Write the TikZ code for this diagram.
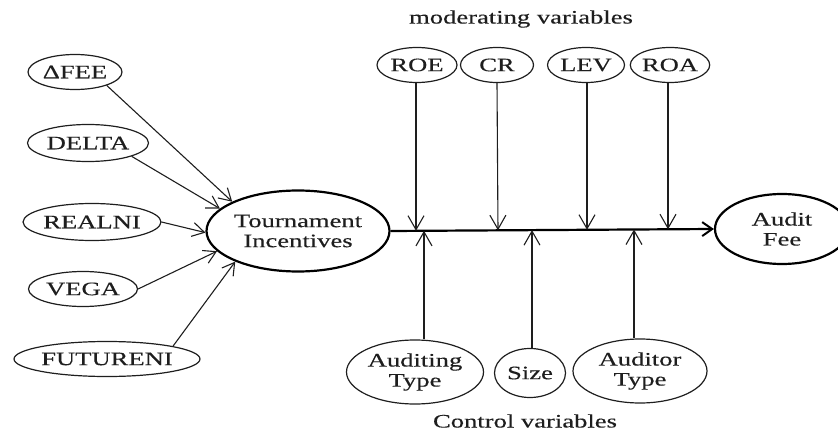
\documentclass[tikz,border=0pt]{standalone}
\usepackage{fontspec}
\setmainfont{Liberation Serif}[FakeStretch=1.4,FakeBold=0.3]
\usetikzlibrary{shapes.geometric,arrows.meta}
\definecolor{ink}{HTML}{1E1E1E}
\begin{document}
\begin{tikzpicture}[x=1pt,y=-1pt,
  txt/.style={font=\fontsize{19pt}{20pt}\selectfont, text=ink},
  sm/.style={ellipse, draw=ink, line width=1.2pt, inner sep=0pt, align=center, txt},
  big/.style={ellipse, draw=black, line width=2.2pt, inner sep=0pt, align=center, txt},
  conn/.style={draw=ink, line width=1.1pt, -{Straight Barb[length=12pt,width=14pt,line width=1.1pt]}},
  vconn/.style={draw=ink, line width=1.1pt, -{Straight Barb[length=14pt,width=16pt,line width=1.1pt]}},
  mainconn/.style={draw=black, line width=2.2pt, -{Straight Barb[length=10pt,width=14pt,line width=2pt]}},
  lbl/.style={txt}
]
\useasboundingbox (0,0) rectangle (838,433);

% left variables
\node[sm, minimum width=94pt, minimum height=35pt] (dfee) at (75,72) {ΔFEE};
\node[sm, minimum width=121pt, minimum height=37pt] (delta) at (88,143) {DELTA};
\node[sm, minimum width=136pt, minimum height=37pt] (realni) at (92,222) {REALNI};
\node[sm, minimum width=109pt, minimum height=35pt] (vega) at (83,289) {VEGA};
\node[sm, minimum width=186pt, minimum height=35pt] (futureni) at (107,359) {FUTURENI};

% main nodes
\node[big, minimum width=183pt, minimum height=81pt] (tour) at (298,231) {Tournament\\Incentives};
\node[big, minimum width=134pt, minimum height=70pt] (audit) at (782,229) {Audit\\Fee};

% moderating variables
\node[lbl] (modlbl) at (521,19) {moderating variables};
\node[sm, minimum width=80pt, minimum height=35pt] (roe) at (417,65) {ROE};
\node[sm, minimum width=73pt, minimum height=35pt] (cr) at (497,65) {CR};
\node[sm, minimum width=77pt, minimum height=35pt] (lev) at (586,65) {LEV};
\node[sm, minimum width=79pt, minimum height=35pt] (roa) at (670,65) {ROA};

% control variables
\node[sm, minimum width=137pt, minimum height=64pt] (audtype) at (415,372) {Auditing\\Type};
\node[sm, minimum width=71pt, minimum height=49pt] (size) at (530,373) {Size};
\node[sm, minimum width=134pt, minimum height=64pt] (audrtype) at (640,371) {Auditor\\Type};
\node[lbl] (ctrllbl) at (525,421) {Control variables};

% points on the main line
\coordinate (m1) at (416,230.8);
\coordinate (m2) at (498,230.3);
\coordinate (m3) at (587,229.8);
\coordinate (m4) at (668,229.3);
\coordinate (c1) at (424,230.8);
\coordinate (c2) at (532,230.1);
\coordinate (c3) at (634,229.5);

% left arrows
\draw[conn] (dfee.-23) -- (tour.156);
\draw[conn] (delta.-17) -- (tour.164);
\draw[conn] (realni.east) -- (tour.181);
\draw[conn] (vega.east) -- (tour.194);
\draw[conn] (futureni.11) -- (tour.206);

% main arrow
\draw[mainconn] (tour.east) -- (audit.west);

% moderating arrows
\draw[vconn] (roe.south -| m1) -- (m1);
\draw[vconn] (cr.south) -- (m2);
\draw[vconn] (lev.south -| m3) -- (m3);
\draw[vconn] (roa.south -| m4) -- (m4);

% control arrows
\draw[vconn] (audtype.north -| c1) -- (c1);
\draw[vconn] (size.north -| c2) -- (c2);
\draw[vconn] (audrtype.north -| c3) -- (c3);
\end{tikzpicture}
\end{document}
